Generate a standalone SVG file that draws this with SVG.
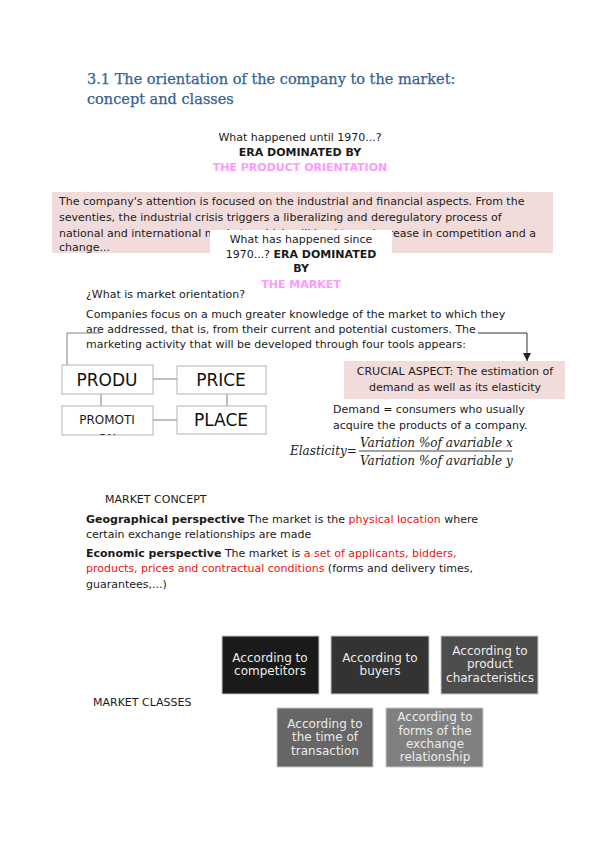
<svg xmlns="http://www.w3.org/2000/svg" width="599" height="848" viewBox="0 0 599 848">
<style>
text{font-family:"DejaVu Sans",sans-serif;font-size:11px;fill:#1a1a1a}
.t{font-family:"DejaVu Serif",serif;font-size:14.5px;fill:#365f91;stroke:#365f91;stroke-width:0.25}
.b{font-weight:bold}
.pk{fill:#ff99ff;font-weight:bold}
.c{text-anchor:middle}
.red{fill:#ee1111}
.box{fill:#fff;stroke:#b3b3b3;stroke-width:1}
.big{font-size:17px;text-anchor:middle;fill:#111}
.ln{stroke:#808080;stroke-width:1;fill:none}
.cls text{fill:#ececec;font-size:12px;text-anchor:middle}
.cls rect{stroke:#c8c8c8;stroke-width:1}
.f{font-family:"DejaVu Serif",serif;font-style:italic;font-size:12px}
</style>
<defs>
<marker id="ah" markerWidth="8" markerHeight="8" refX="8" refY="4" orient="auto" markerUnits="userSpaceOnUse">
<path d="M0,0 L8,4 L0,8 z" fill="#222"/>
</marker>
<clipPath id="cp"><rect x="62" y="406" width="91" height="29"/></clipPath>
</defs>
<rect width="599" height="848" fill="#fff"/>

<g id="title">
<text class="t" x="87" y="84">3.1 The orientation of the company to the market:</text>
<text class="t" x="87" y="104">concept and classes</text>
</g>

<g id="era1">
<text class="c" x="300" y="141">What happened until 1970...?</text>
<text class="c b" x="300" y="156">ERA DOMINATED BY</text>
<text class="c pk" x="300" y="171">THE PRODUCT ORIENTATION</text>
</g>

<g id="attention">
<rect x="52" y="192" width="501" height="61" fill="#f2dcdb"/>
<text x="59" y="205">The company's attention is focused on the industrial and financial aspects. From the</text>
<text x="59" y="221">seventies, the industrial crisis triggers a liberalizing and deregulatory process of</text>
<text x="59" y="237">national and international markets, which will lead to an increase in competition and a</text>
<text x="59" y="251">change...</text>
</g>

<g id="era2">
<rect x="210" y="230" width="182" height="52" fill="#fff"/>
<text class="c" x="301" y="243">What has happened since</text>
<text class="c" x="301" y="258">1970...? <tspan class="b">ERA DOMINATED</tspan></text>
<text class="c b" x="301" y="272">BY</text>
<text class="c pk" x="301" y="288">THE MARKET</text>
</g>

<g id="orientation">
<text x="86" y="298">¿What is market orientation?</text>
<text x="86" y="318">Companies focus on a much greater knowledge of the market to which they</text>
<text x="86" y="333">are addressed, that is, from their current and potential customers. The</text>
<text x="86" y="348">marketing activity that will be developed through four tools appears:</text>
</g>

<g id="connectors">
<path class="ln" d="M100,333 H67 V366"/>
<path d="M478,333 H527 V361" fill="none" stroke="#333" stroke-width="1" marker-end="url(#ah)"/>
<path class="ln" d="M153,379 H177"/>
<path class="ln" d="M101,394 V406"/>
<path class="ln" d="M227,394 V406"/>
<path class="ln" d="M153,420 H177"/>
</g>

<g id="produ">
<rect class="box" x="62" y="365" width="91" height="29"/>
<text class="big" x="107" y="386">PRODU</text>
</g>
<g id="price">
<rect class="box" x="177" y="366" width="89" height="28"/>
<text class="big" x="221" y="386">PRICE</text>
</g>
<g id="promotion">
<rect class="box" x="62" y="406" width="91" height="29"/>
<g clip-path="url(#cp)">
<text x="107" y="424" class="c" style="font-size:12px">PROMOTI</text>
<text x="107" y="443" class="c" style="font-size:12px">ON</text>
</g>
</g>
<g id="place">
<rect class="box" x="177" y="406" width="89" height="28"/>
<text class="big" x="221" y="426">PLACE</text>
</g>

<g id="crucial">
<rect x="344" y="361" width="221" height="38" fill="#f2dcdb"/>
<text class="c" x="455" y="375">CRUCIAL ASPECT: The estimation of</text>
<text class="c" x="455" y="391">demand as well as its elasticity</text>
</g>

<g id="demand">
<text x="333" y="413">Demand = consumers who usually</text>
<text x="333" y="429">acquire the products of a company.</text>
</g>

<g id="elasticity">
<text class="f" x="290" y="455">Elasticity=</text>
<text class="f" x="360" y="447">Variation %of avariable x</text>
<line x1="359" y1="451" x2="512" y2="451" stroke="#1a1a1a" stroke-width="0.8"/>
<text class="f" x="360" y="465">Variation %of avariable y</text>
</g>

<g id="concept">
<text x="105" y="503">MARKET CONCEPT</text>
<text x="86" y="523"><tspan class="b">Geographical perspective</tspan> The market is the <tspan class="red">physical location</tspan> where</text>
<text x="86" y="538">certain exchange relationships are made</text>
<text x="86" y="557"><tspan class="b">Economic perspective</tspan> The market is <tspan class="red">a set of applicants, bidders,</tspan></text>
<text x="86" y="572"><tspan class="red">products, prices and contractual conditions</tspan> (forms and delivery times,</text>
<text x="86" y="588">guarantees,...)</text>
</g>

<g id="classes">
<text x="93" y="706">MARKET CLASSES</text>
</g>
<g id="c1" class="cls">
<rect x="222" y="636" width="97" height="58" fill="#1a1a1a"/>
<text x="270" y="662">According to</text>
<text x="270" y="675">competitors</text>
</g>
<g id="c2" class="cls">
<rect x="331" y="636" width="98" height="58" fill="#333"/>
<text x="380" y="662">According to</text>
<text x="380" y="675">buyers</text>
</g>
<g id="c3" class="cls">
<rect x="441" y="636" width="97" height="58" fill="#4d4d4d"/>
<text x="490" y="655">According to</text>
<text x="490" y="668">product</text>
<text x="490" y="682">characteristics</text>
</g>
<g id="c4" class="cls">
<rect x="277" y="708" width="96" height="59" fill="#666"/>
<text x="325" y="728">According to</text>
<text x="325" y="741">the time of</text>
<text x="325" y="755">transaction</text>
</g>
<g id="c5" class="cls">
<rect x="386" y="708" width="97" height="59" fill="#808080"/>
<text x="435" y="721">According to</text>
<text x="435" y="735">forms of the</text>
<text x="435" y="748">exchange</text>
<text x="435" y="761">relationship</text>
</g>
</svg>
